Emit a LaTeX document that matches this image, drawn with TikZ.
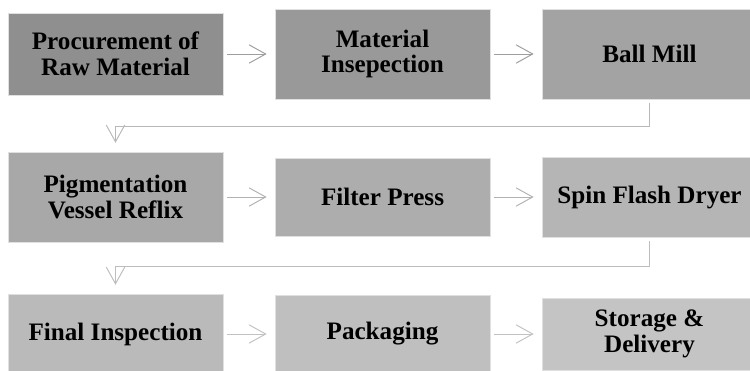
\documentclass[tikz,border=0pt]{standalone}
\usepackage{fontspec}
\setmainfont{Liberation Serif}
\usetikzlibrary{arrows.meta}

\tikzset{
  stepbox/.style={rectangle, draw=black!12, line width=0.5pt, minimum width=4.3cm,
    align=center, inner sep=0pt, font=\bfseries\fontsize{14.3}{14.6}\selectfont},
  link/.style={draw=black!#1, line width=0.55pt,
    -{Straight Barb[length=9.5pt,width=10.5pt,line width=0.55pt]}},
  link/.default=37
}

\begin{document}
\begin{tikzpicture}[x=0.02cm, y=-0.02cm]
        \useasboundingbox (0,0) rectangle (750,371);
        \clip (0,0) rectangle (750,371);

        % Row 1
        \node[stepbox, fill=black!44, minimum height=1.64cm] (proc) at (115.5,54) {Procurement of\\Raw Material};
        \node[stepbox, fill=black!40, minimum height=1.8cm] (insp) at (382.5,54) {Material\\Insepection};
        \node[stepbox, fill=black!36, minimum height=1.8cm] (mill) at (649.5,54) {Ball Mill};

        % Row 2
        \node[stepbox, fill=black!34, minimum height=1.8cm] (pigm) at (115.5,197) {Pigmentation\\Vessel Reflix};
        \node[stepbox, fill=black!32, minimum height=1.56cm] (filt) at (382.5,197) {Filter Press};
        \node[stepbox, fill=black!29, minimum height=1.6cm] (dryer) at (649.5,197) {Spin Flash Dryer};

        % Row 3
        \node[stepbox, fill=black!27, minimum height=1.6cm] (final) at (115.5,334) {Final Inspection};
        \node[stepbox, fill=black!25, minimum height=1.56cm] (pack) at (382.5,334) {Packaging};
        \node[stepbox, fill=black!23, minimum height=1.44cm] (store) at (649.5,334) {Storage \&\\Delivery};

        % Arrows along the rows
        \draw[link=38, shorten <=2pt, shorten >=4.5pt] (proc) -- (insp);
        \draw[link=38, shorten <=2pt, shorten >=4.5pt] (insp) -- (mill);
        \draw[link=30, shorten <=2pt, shorten >=4.5pt] (pigm) -- (filt);
        \draw[link=30, shorten <=2pt, shorten >=4.5pt] (filt) -- (dryer);
        \draw[link=24, shorten <=2pt, shorten >=4.5pt] (final) -- (pack);
        \draw[link=24, shorten <=2pt, shorten >=4.5pt] (pack) -- (store);

        % Elbows down to the next row
        \draw[link=28, shorten <=2pt, shorten >=5pt] (mill.south) -- ++(0,27) -| (pigm.north);
        \draw[link=26, shorten <=2pt, shorten >=5pt] (dryer.south) -- ++(0,29) -| (final.north);

    \end{tikzpicture}
\end{document}
